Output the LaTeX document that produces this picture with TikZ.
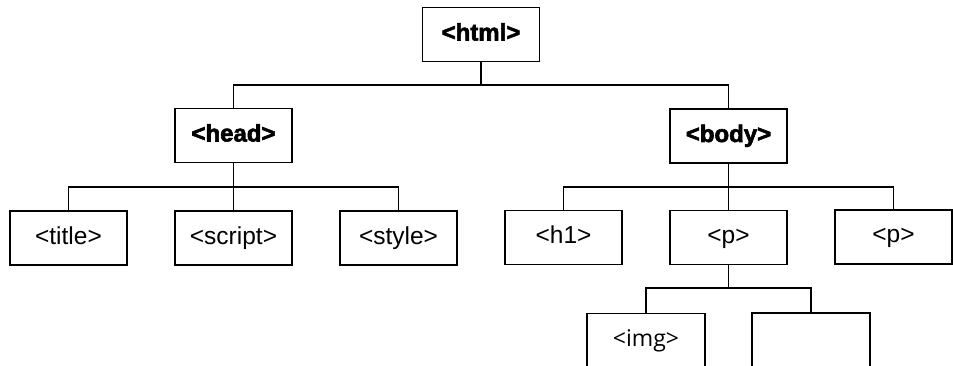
\documentclass[tikz,border=0pt]{standalone}
\usepackage{fontspec}
\setmainfont{Liberation Sans}
\newfontfamily\lourd{Liberation Sans}[BoldFeatures={FakeBold=2.5}]
\newfontfamily\imgfont{Open Sans}
\usepackage{tikz}
\begin{document}
\begin{tikzpicture}[x=1pt,y=-1pt]
  \tikzstyle{balise}=[draw=black, line width=1.2pt, minimum width=117pt, minimum height=54pt, inner sep=0pt, text height=17pt, text depth=5pt, font=\fontsize{24.5}{28}\selectfont]
  \tikzstyle{racine}=[balise, font=\fontsize{24}{28}\selectfont\lourd\bfseries]
  \tikzstyle{lien}=[line width=1.2pt]
  \clip (0,0) rectangle (953,366);
  % niveaux des barres
  \coordinate (bus1) at (0,85);
  \coordinate (bus2) at (0,187);
  \coordinate (bus3) at (0,288);
  \node[racine] (html) at (481,34.5) {<html>};
  \node[racine] (head) at (233.5,135.5) {<head>};
  \node[racine] (body) at (728.5,136) {<body>};
  \node[balise] (title) at (68.5,238) {<title>};
  \node[balise] (script) at (233.5,238) {<script>};
  \node[balise] (style) at (398.5,238) {<style>};
  \node[balise] (h1) at (563.5,237.5) {<h1>};
  \node[balise] (p) at (728.5,237.5) {<p>};
  \node[balise] (p2) at (893.5,237) {<p>};
  \node[balise, minimum width=118pt, font=\fontsize{23}{28}\selectfont\imgfont] (img) at (646,340.5) {<img>};
  \node[balise, minimum width=118pt] (vide) at (811,340) {};
  % html
  \draw[lien] (html.south) -- (html.south |- bus1);
  \draw[lien] (head.north) |- (body.north |- bus1) -- (body.north);
  % head
  \draw[lien] (head.south) -- (script.north);
  \draw[lien] (title.north) |- (style.north |- bus2) -- (style.north);
  % body
  \draw[lien] (body.south) -- (p.north);
  \draw[lien] (h1.north) |- (p2.north |- bus2) -- (p2.north);
  % p
  \draw[lien] (p.south) -- (p.south |- bus3);
  \draw[lien] (img.north) |- (vide.north |- bus3) -- (vide.north);
\end{tikzpicture}
\end{document}
